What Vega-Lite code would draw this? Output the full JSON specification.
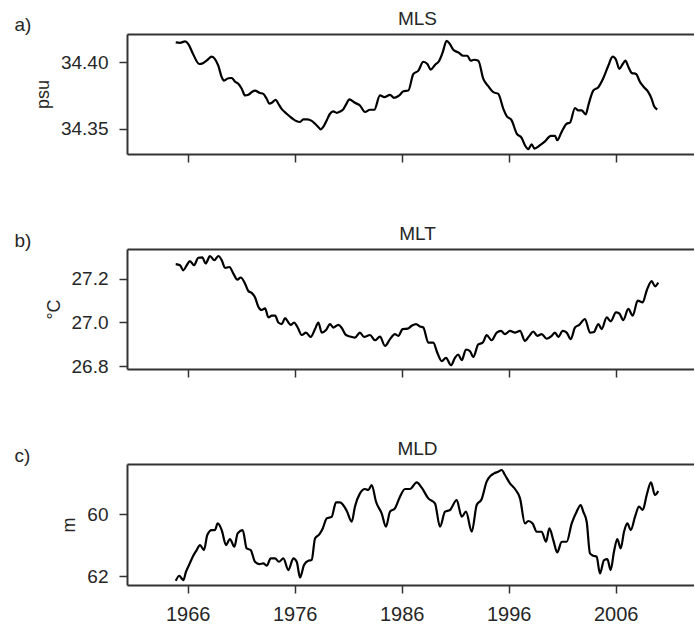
{
"$schema": "https://vega.github.io/schema/vega-lite/v6.json",
"padding": {"left": 14, "top": 9, "right": 0, "bottom": 0},
"spacing": 61,
"config": {
  "font": "Liberation Sans",
  "view": {"stroke": null},
  "axis": {"grid": false, "domainColor": "#333333", "domainWidth": 2, "tickColor": "#333333", "tickWidth": 1.5, "tickSize": 8, "labelColor": "#262626", "titleColor": "#262626", "labelFont": "Liberation Sans", "titleFont": "Liberation Sans", "titleFontWeight": "normal", "labelFlush": false}
},
"datasets": {
  "mls": [
{"t":1964.88,"v":34.4147},{"t":1965.28,"v":34.4144},{"t":1965.75,"v":34.4154},{"t":1966.06,"v":34.4134},{"t":1966.5,"v":34.406},{"t":1967.08,"v":34.3985},{"t":1967.46,"v":34.3993},{"t":1967.84,"v":34.4015},{"t":1968.24,"v":34.404},{"t":1968.55,"v":34.4022},{"t":1968.86,"v":34.3972},{"t":1969.18,"v":34.3886},{"t":1969.39,"v":34.386},{"t":1969.8,"v":34.3878},{"t":1970.11,"v":34.388},{"t":1970.42,"v":34.3853},{"t":1970.73,"v":34.3836},{"t":1971.05,"v":34.3799},{"t":1971.36,"v":34.3749},{"t":1971.67,"v":34.3754},{"t":1971.98,"v":34.3774},{"t":1972.29,"v":34.3786},{"t":1972.7,"v":34.3769},{"t":1973.07,"v":34.3761},{"t":1973.38,"v":34.3724},{"t":1973.63,"v":34.3687},{"t":1973.94,"v":34.3699},{"t":1974.22,"v":34.3717},{"t":1974.47,"v":34.3687},{"t":1974.78,"v":34.3649},{"t":1975.25,"v":34.3612},{"t":1975.72,"v":34.358},{"t":1976.19,"v":34.3555},{"t":1976.5,"v":34.355},{"t":1976.8,"v":34.357},{"t":1977.18,"v":34.357},{"t":1977.59,"v":34.3558},{"t":1977.9,"v":34.3537},{"t":1978.2,"v":34.3513},{"t":1978.43,"v":34.3495},{"t":1978.67,"v":34.3513},{"t":1978.99,"v":34.3562},{"t":1979.3,"v":34.3612},{"t":1979.61,"v":34.3629},{"t":1979.93,"v":34.3619},{"t":1980.23,"v":34.3628},{"t":1980.54,"v":34.3645},{"t":1980.86,"v":34.369},{"t":1981.1,"v":34.3719},{"t":1981.63,"v":34.3694},{"t":1982.1,"v":34.3674},{"t":1982.57,"v":34.3625},{"t":1983.04,"v":34.3642},{"t":1983.44,"v":34.3642},{"t":1983.97,"v":34.3749},{"t":1984.38,"v":34.3737},{"t":1984.91,"v":34.3754},{"t":1985.28,"v":34.3731},{"t":1985.78,"v":34.3749},{"t":1986.16,"v":34.3781},{"t":1986.62,"v":34.3786},{"t":1987.09,"v":34.391},{"t":1987.56,"v":34.3935},{"t":1988.02,"v":34.4002},{"t":1988.4,"v":34.3985},{"t":1988.71,"v":34.3943},{"t":1989.11,"v":34.3978},{"t":1989.51,"v":34.401},{"t":1989.83,"v":34.4072},{"t":1990.2,"v":34.4159},{"t":1990.51,"v":34.4134},{"t":1990.82,"v":34.4092},{"t":1991.29,"v":34.4072},{"t":1991.76,"v":34.4047},{"t":1992.13,"v":34.4047},{"t":1992.45,"v":34.401},{"t":1992.76,"v":34.4017},{"t":1993.16,"v":34.401},{"t":1993.63,"v":34.3873},{"t":1994.09,"v":34.3819},{"t":1994.56,"v":34.3774},{"t":1995.03,"v":34.3761},{"t":1995.5,"v":34.3649},{"t":1995.81,"v":34.3595},{"t":1996.28,"v":34.3562},{"t":1996.75,"v":34.3463},{"t":1997.21,"v":34.3431},{"t":1997.52,"v":34.3376},{"t":1997.83,"v":34.3346},{"t":1998.15,"v":34.3383},{"t":1998.4,"v":34.3351},{"t":1998.93,"v":34.3376},{"t":1999.39,"v":34.3405},{"t":1999.93,"v":34.3446},{"t":2000.33,"v":34.3446},{"t":2000.54,"v":34.3413},{"t":2000.95,"v":34.3476},{"t":2001.42,"v":34.3537},{"t":2001.73,"v":34.3545},{"t":2002.2,"v":34.3655},{"t":2002.5,"v":34.3637},{"t":2002.82,"v":34.3637},{"t":2003.2,"v":34.3607},{"t":2003.44,"v":34.3674},{"t":2003.91,"v":34.3786},{"t":2004.38,"v":34.3811},{"t":2004.84,"v":34.3878},{"t":2005.31,"v":34.3972},{"t":2005.72,"v":34.404},{"t":2006.03,"v":34.4017},{"t":2006.34,"v":34.3948},{"t":2006.66,"v":34.3985},{"t":2006.9,"v":34.401},{"t":2007.18,"v":34.3965},{"t":2007.5,"v":34.3918},{"t":2007.9,"v":34.391},{"t":2008.28,"v":34.3849},{"t":2008.65,"v":34.3811},{"t":2009.05,"v":34.3774},{"t":2009.36,"v":34.3724},{"t":2009.58,"v":34.367},{"t":2009.89,"v":34.3644}
  ],
  "mlt": [
{"t":1964.88,"v":27.266},{"t":1965.28,"v":27.261},{"t":1965.59,"v":27.238},{"t":1965.91,"v":27.261},{"t":1966.21,"v":27.28},{"t":1966.59,"v":27.261},{"t":1966.99,"v":27.295},{"t":1967.36,"v":27.297},{"t":1967.68,"v":27.269},{"t":1968.08,"v":27.303},{"t":1968.49,"v":27.284},{"t":1968.86,"v":27.303},{"t":1969.18,"v":27.284},{"t":1969.49,"v":27.249},{"t":1969.89,"v":27.253},{"t":1970.27,"v":27.223},{"t":1970.64,"v":27.195},{"t":1970.95,"v":27.205},{"t":1971.36,"v":27.177},{"t":1971.67,"v":27.143},{"t":1971.98,"v":27.135},{"t":1972.29,"v":27.115},{"t":1972.6,"v":27.072},{"t":1972.92,"v":27.057},{"t":1973.23,"v":27.065},{"t":1973.54,"v":27.023},{"t":1973.86,"v":27.031},{"t":1974.17,"v":27.031},{"t":1974.47,"v":27.0},{"t":1974.79,"v":26.993},{"t":1975.1,"v":27.02},{"t":1975.41,"v":27.0},{"t":1975.63,"v":26.989},{"t":1975.94,"v":27.0},{"t":1976.28,"v":26.977},{"t":1976.66,"v":26.943},{"t":1977.06,"v":26.954},{"t":1977.5,"v":26.934},{"t":1977.9,"v":26.97},{"t":1978.21,"v":27.0},{"t":1978.53,"v":26.954},{"t":1978.93,"v":26.966},{"t":1979.3,"v":26.993},{"t":1979.61,"v":26.977},{"t":1980.08,"v":26.989},{"t":1980.4,"v":26.975},{"t":1980.75,"v":26.945},{"t":1981.17,"v":26.936},{"t":1981.63,"v":26.931},{"t":1982.1,"v":26.954},{"t":1982.48,"v":26.934},{"t":1983.04,"v":26.943},{"t":1983.5,"v":26.919},{"t":1983.97,"v":26.936},{"t":1984.44,"v":26.893},{"t":1984.91,"v":26.924},{"t":1985.37,"v":26.947},{"t":1985.68,"v":26.939},{"t":1986.09,"v":26.97},{"t":1986.56,"v":26.972},{"t":1986.93,"v":26.985},{"t":1987.34,"v":26.993},{"t":1987.71,"v":26.982},{"t":1988.02,"v":26.977},{"t":1988.49,"v":26.908},{"t":1988.95,"v":26.908},{"t":1989.33,"v":26.862},{"t":1989.74,"v":26.824},{"t":1990.14,"v":26.839},{"t":1990.61,"v":26.805},{"t":1990.98,"v":26.839},{"t":1991.29,"v":26.854},{"t":1991.61,"v":26.828},{"t":1992.01,"v":26.877},{"t":1992.38,"v":26.87},{"t":1992.69,"v":26.843},{"t":1993.16,"v":26.9},{"t":1993.57,"v":26.908},{"t":1993.94,"v":26.942},{"t":1994.41,"v":26.919},{"t":1994.88,"v":26.954},{"t":1995.28,"v":26.962},{"t":1995.65,"v":26.947},{"t":1996.12,"v":26.962},{"t":1996.59,"v":26.954},{"t":1997.06,"v":26.962},{"t":1997.52,"v":26.916},{"t":1997.93,"v":26.939},{"t":1998.3,"v":26.959},{"t":1998.67,"v":26.939},{"t":1999.08,"v":26.947},{"t":1999.55,"v":26.926},{"t":2000.02,"v":26.939},{"t":2000.33,"v":26.954},{"t":2000.64,"v":26.934},{"t":2001.05,"v":26.962},{"t":2001.42,"v":26.954},{"t":2001.8,"v":26.924},{"t":2002.2,"v":26.977},{"t":2002.6,"v":26.989},{"t":2003.13,"v":27.016},{"t":2003.6,"v":26.954},{"t":2003.97,"v":26.957},{"t":2004.38,"v":26.993},{"t":2004.69,"v":26.97},{"t":2005.16,"v":27.023},{"t":2005.53,"v":27.005},{"t":2006.03,"v":27.046},{"t":2006.34,"v":27.041},{"t":2006.71,"v":27.011},{"t":2007.18,"v":27.062},{"t":2007.59,"v":27.031},{"t":2008.06,"v":27.1},{"t":2008.52,"v":27.092},{"t":2008.9,"v":27.146},{"t":2009.36,"v":27.189},{"t":2009.67,"v":27.165},{"t":2009.98,"v":27.182}
  ],
  "mld": [
{"t":1964.88,"v":62.153},{"t":1965.22,"v":61.99},{"t":1965.44,"v":62.078},{"t":1965.59,"v":62.13},{"t":1965.84,"v":61.86},{"t":1966.15,"v":61.624},{"t":1966.47,"v":61.373},{"t":1966.84,"v":61.156},{"t":1967.15,"v":60.994},{"t":1967.52,"v":61.156},{"t":1967.83,"v":60.669},{"t":1968.24,"v":60.507},{"t":1968.55,"v":60.507},{"t":1968.8,"v":60.292},{"t":1969.18,"v":60.507},{"t":1969.58,"v":60.994},{"t":1969.95,"v":60.799},{"t":1970.36,"v":61.049},{"t":1970.67,"v":60.617},{"t":1971.14,"v":60.507},{"t":1971.51,"v":61.104},{"t":1971.89,"v":61.156},{"t":1972.29,"v":61.536},{"t":1972.7,"v":61.611},{"t":1973.07,"v":61.591},{"t":1973.38,"v":61.666},{"t":1973.76,"v":61.429},{"t":1974.16,"v":61.429},{"t":1974.53,"v":61.536},{"t":1974.94,"v":61.429},{"t":1975.41,"v":61.805},{"t":1975.87,"v":61.429},{"t":1976.19,"v":61.536},{"t":1976.5,"v":62.046},{"t":1976.87,"v":61.643},{"t":1977.27,"v":61.503},{"t":1977.59,"v":61.481},{"t":1977.9,"v":60.779},{"t":1978.3,"v":60.649},{"t":1978.62,"v":60.455},{"t":1978.99,"v":60.13},{"t":1979.46,"v":60.075},{"t":1979.86,"v":59.61},{"t":1980.23,"v":59.61},{"t":1980.86,"v":59.88},{"t":1981.33,"v":60.237},{"t":1981.63,"v":59.75},{"t":1982.1,"v":59.318},{"t":1982.57,"v":59.175},{"t":1982.88,"v":59.208},{"t":1983.2,"v":59.045},{"t":1983.6,"v":59.588},{"t":1984.13,"v":59.968},{"t":1984.53,"v":60.399},{"t":1984.91,"v":59.912},{"t":1985.37,"v":59.805},{"t":1985.84,"v":59.425},{"t":1986.31,"v":59.175},{"t":1986.78,"v":59.175},{"t":1987.4,"v":58.961},{"t":1987.87,"v":59.133},{"t":1988.49,"v":59.48},{"t":1989.11,"v":59.643},{"t":1989.58,"v":60.399},{"t":1990.05,"v":59.912},{"t":1990.51,"v":59.857},{"t":1991.14,"v":59.532},{"t":1991.61,"v":60.075},{"t":1992.01,"v":59.912},{"t":1992.55,"v":60.562},{"t":1993.01,"v":59.695},{"t":1993.48,"v":59.5},{"t":1993.94,"v":58.938},{"t":1994.32,"v":58.743},{"t":1994.63,"v":58.669},{"t":1995.03,"v":58.614},{"t":1995.35,"v":58.558},{"t":1995.65,"v":58.721},{"t":1996.12,"v":58.993},{"t":1996.59,"v":59.175},{"t":1997.06,"v":59.48},{"t":1997.52,"v":60.292},{"t":1997.83,"v":60.214},{"t":1998.24,"v":60.292},{"t":1998.61,"v":60.562},{"t":1999.08,"v":60.562},{"t":1999.49,"v":60.887},{"t":1999.8,"v":60.455},{"t":2000.17,"v":60.831},{"t":2000.54,"v":61.234},{"t":2000.95,"v":60.887},{"t":2001.42,"v":60.887},{"t":2001.89,"v":60.292},{"t":2002.35,"v":59.912},{"t":2002.73,"v":59.695},{"t":2002.97,"v":59.912},{"t":2003.29,"v":60.237},{"t":2003.6,"v":61.266},{"t":2003.91,"v":61.341},{"t":2004.22,"v":61.373},{"t":2004.53,"v":61.916},{"t":2004.91,"v":61.481},{"t":2005.22,"v":61.448},{"t":2005.53,"v":61.805},{"t":2005.84,"v":61.211},{"t":2006.15,"v":60.799},{"t":2006.47,"v":61.104},{"t":2006.78,"v":60.562},{"t":2007.09,"v":60.292},{"t":2007.41,"v":60.507},{"t":2007.81,"v":60.075},{"t":2008.18,"v":59.75},{"t":2008.53,"v":59.857},{"t":2008.9,"v":59.37},{"t":2009.3,"v":58.961},{"t":2009.67,"v":59.37},{"t":2009.98,"v":59.24}
  ]
},
"vconcat": [
  {
    "data": {"name": "mls"},
    "width": 567, "height": 120,
    "layer": [
      {"mark": {"type": "line", "color": "#000000", "strokeWidth": 2.2, "interpolate": "monotone"},
       "encoding": {
         "x": {"field": "t", "type": "quantitative", "scale": {"domain": [1960.327, 2013.32], "nice": false, "zero": false}, "axis": {"orient": "bottom", "values": [1966, 1976, 1986, 1996, 2006], "labels": false, "title": null}},
         "y": {"field": "v", "type": "quantitative", "scale": {"domain": [34.331, 34.421], "nice": false, "zero": false}, "axis": {"orient": "left", "title": "psu", "values": [34.35, 34.40], "format": ".2f", "labelFontSize": 19, "titleFontSize": 18, "labelPadding": 11, "titlePadding": 8}}}},
      {"mark": {"type": "line", "strokeOpacity": 0},
       "encoding": {
         "x": {"field": "t", "type": "quantitative", "scale": {"domain": [1960.327, 2013.32], "nice": false, "zero": false}, "axis": {"orient": "top", "labels": false, "ticks": false, "title": "a)", "titleFontSize": 19, "titleAngle": 0, "titleAlign": "left", "titleBaseline": "alphabetic", "titleX": -113, "titleY": -4}},
         "y": {"field": "v", "type": "quantitative", "scale": {"domain": [34.331, 34.421], "nice": false, "zero": false}, "axis": {"orient": "right", "labels": false, "ticks": false, "domain": false, "title": "MLS", "titleFontSize": 19, "titleAngle": 0, "titleAlign": "center", "titleBaseline": "alphabetic", "titleX": -277, "titleY": -9.5}}}}
    ],
    "resolve": {"axis": {"x": "independent", "y": "independent"}}
  },
  {
    "data": {"name": "mlt"},
    "width": 567, "height": 120,
    "layer": [
      {"mark": {"type": "line", "color": "#000000", "strokeWidth": 2.2, "interpolate": "monotone"},
       "encoding": {
         "x": {"field": "t", "type": "quantitative", "scale": {"domain": [1960.327, 2013.32], "nice": false, "zero": false}, "axis": {"orient": "bottom", "values": [1966, 1976, 1986, 1996, 2006], "labels": false, "title": null}},
         "y": {"field": "v", "type": "quantitative", "scale": {"domain": [26.788, 27.335], "nice": false, "zero": false}, "axis": {"orient": "left", "title": "°C", "values": [26.8, 27.0, 27.2], "format": ".1f", "labelFontSize": 19, "titleFontSize": 18, "labelPadding": 11, "titlePadding": 8}}}},
      {"mark": {"type": "line", "strokeOpacity": 0},
       "encoding": {
         "x": {"field": "t", "type": "quantitative", "scale": {"domain": [1960.327, 2013.32], "nice": false, "zero": false}, "axis": {"orient": "top", "labels": false, "ticks": false, "title": "b)", "titleFontSize": 19, "titleAngle": 0, "titleAlign": "left", "titleBaseline": "alphabetic", "titleX": -113, "titleY": -3}},
         "y": {"field": "v", "type": "quantitative", "scale": {"domain": [26.788, 27.335], "nice": false, "zero": false}, "axis": {"orient": "right", "labels": false, "ticks": false, "domain": false, "title": "MLT", "titleFontSize": 19, "titleAngle": 0, "titleAlign": "center", "titleBaseline": "alphabetic", "titleX": -277, "titleY": -9.5}}}}
    ],
    "resolve": {"axis": {"x": "independent", "y": "independent"}}
  },
  {
    "data": {"name": "mld"},
    "width": 567, "height": 121,
    "layer": [
      {"mark": {"type": "line", "color": "#000000", "strokeWidth": 2.2, "interpolate": "monotone"},
       "encoding": {
         "x": {"field": "t", "type": "quantitative", "scale": {"domain": [1960.327, 2013.32], "nice": false, "zero": false}, "axis": {"orient": "bottom", "values": [1966, 1976, 1986, 1996, 2006], "format": "d", "labelFontSize": 20, "labelPadding": 11, "title": null}},
         "y": {"field": "v", "type": "quantitative", "scale": {"domain": [58.364, 62.29], "reverse": true, "nice": false, "zero": false}, "axis": {"orient": "left", "title": "m", "values": [60, 62], "format": "d", "labelFontSize": 19, "titleFontSize": 18, "labelPadding": 11, "titlePadding": 8}}}},
      {"mark": {"type": "line", "strokeOpacity": 0},
       "encoding": {
         "x": {"field": "t", "type": "quantitative", "scale": {"domain": [1960.327, 2013.32], "nice": false, "zero": false}, "axis": {"orient": "top", "labels": false, "ticks": false, "title": "c)", "titleFontSize": 19, "titleAngle": 0, "titleAlign": "left", "titleBaseline": "alphabetic", "titleX": -113, "titleY": -3}},
         "y": {"field": "v", "type": "quantitative", "scale": {"domain": [58.364, 62.29], "reverse": true, "nice": false, "zero": false}, "axis": {"orient": "right", "labels": false, "ticks": false, "domain": false, "title": "MLD", "titleFontSize": 19, "titleAngle": 0, "titleAlign": "center", "titleBaseline": "alphabetic", "titleX": -277, "titleY": -9.5}}}}
    ],
    "resolve": {"axis": {"x": "independent", "y": "independent"}}
  }
]
}
